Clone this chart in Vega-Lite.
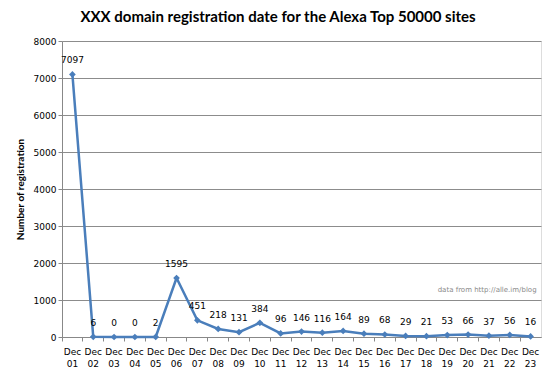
{
  "$schema": "https://vega.github.io/schema/vega-lite/v6.json",
  "width": 479,
  "height": 296,
  "autosize": {"type": "none"},
  "padding": {"left": 62, "top": 41, "right": 9, "bottom": 39},
  "background": "white",
  "title": {
    "text": "XXX domain registration  date for the Alexa Top 50000 sites",
    "font": "Lato",
    "fontSize": 15,
    "fontWeight": "bold",
    "color": "#000000",
    "anchor": "middle",
    "frame": "bounds",
    "offset": 12
  },
  "data": {
    "values": [
      {"day": "Dec 01", "n": 7097},
      {"day": "Dec 02", "n": 6},
      {"day": "Dec 03", "n": 0},
      {"day": "Dec 04", "n": 0},
      {"day": "Dec 05", "n": 2},
      {"day": "Dec 06", "n": 1595},
      {"day": "Dec 07", "n": 451},
      {"day": "Dec 08", "n": 218},
      {"day": "Dec 09", "n": 131},
      {"day": "Dec 10", "n": 384},
      {"day": "Dec 11", "n": 96},
      {"day": "Dec 12", "n": 146},
      {"day": "Dec 13", "n": 116},
      {"day": "Dec 14", "n": 164},
      {"day": "Dec 15", "n": 89},
      {"day": "Dec 16", "n": 68},
      {"day": "Dec 17", "n": 29},
      {"day": "Dec 18", "n": 21},
      {"day": "Dec 19", "n": 53},
      {"day": "Dec 20", "n": 66},
      {"day": "Dec 21", "n": 37},
      {"day": "Dec 22", "n": 56},
      {"day": "Dec 23", "n": 16}
    ]
  },
  "encoding": {
    "x": {
      "field": "day",
      "type": "nominal",
      "sort": null,
      "scale": {"type": "band", "paddingInner": 0, "paddingOuter": 0},
      "axis": {
        "title": null,
        "labelAngle": 0,
        "labelExpr": "split(datum.label, ' ')",
        "labelFont": "DejaVu Sans",
        "labelFontSize": 9,
        "labelColor": "#000000",
        "labelLineHeight": 12,
        "labelPadding": 6,
        "bandPosition": 0,
        "tickColor": "#888888",
        "tickSize": 4,
        "domainColor": "#888888",
        "grid": false
      }
    },
    "y": {
      "field": "n",
      "type": "quantitative",
      "scale": {"domain": [0, 8000], "nice": false},
      "axis": {
        "title": "Number of registration",
        "titleFont": "Lato",
        "titleFontSize": 10,
        "titleFontWeight": "bold",
        "titleColor": "#000000",
        "titlePadding": 8,
        "values": [0, 1000, 2000, 3000, 4000, 5000, 6000, 7000, 8000],
        "labelFont": "DejaVu Sans",
        "labelFontSize": 9,
        "labelColor": "#000000",
        "format": "d",
        "tickColor": "#888888",
        "tickSize": 4,
        "domainColor": "#888888",
        "gridColor": "#8c8c8c",
        "gridWidth": 1
      }
    }
  },
  "layer": [
    {
      "mark": {"type": "line", "color": "#4a7ebb", "strokeWidth": 2.5}
    },
    {
      "mark": {"type": "point", "shape": "diamond", "filled": true, "color": "#4a7ebb", "size": 45, "opacity": 1}
    },
    {
      "mark": {"type": "text", "dy": -14, "font": "DejaVu Sans", "fontSize": 9, "color": "#000000"},
      "encoding": {"text": {"field": "n", "type": "quantitative"}}
    },
    {
      "data": {"values": [{"day": "Dec 23", "n": 1270, "label": "data from http://alle.im/blog"}]},
      "mark": {"type": "text", "align": "right", "dx": 6, "font": "DejaVu Sans", "fontSize": 7, "color": "#8a8a8a"},
      "encoding": {"text": {"field": "label"}}
    }
  ]
}
